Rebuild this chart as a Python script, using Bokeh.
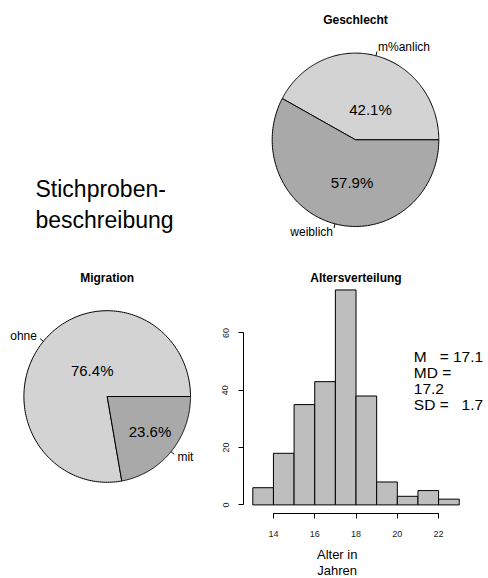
import numpy as np
from bokeh.plotting import figure
from bokeh.models import Range1d, Label, FixedTicker
from bokeh.embed import file_html
from bokeh.resources import INLINE

# ---------------- data ----------------
sex_labels = ["m%anlich", "weiblich"]
sex_share = [42.1, 57.9]
sex_pct_text = ["42.1%", "57.9%"]
sex_title = "Geschlecht"

mig_labels = ["ohne", "mit"]
mig_share = [77.8, 22.2]
mig_pct_text = ["76.4%", "23.6%"]
mig_title = "Migration"

age_edges = [13, 14, 15, 16, 17, 18, 19, 20, 21, 22, 23]
age_counts = [6, 18, 35, 43, 75, 38, 8, 3, 5, 2]
age_ticks = [14, 16, 18, 20, 22]
count_ticks = [0, 20, 40, 60]
age_title = "Altersverteilung"
age_xlabel = ["Alter in", "Jahren"]
stats_lines = ["M   = 17.1", "MD =", "17.2", "SD =   1.7"]

intro_lines = ["Stichproben-", "beschreibung"]

# ---------------- style / layout ----------------
FONT = "Liberation Sans"
LIGHT = "#D3D3D3"
DARK = "#A9A9A9"
BAR = "#BEBEBE"
W, H = 488, 578

# histogram placement on the canvas (pixels per data unit and anchors)
X_PER, X_ANCHOR = 20.645, 252.3     # age 13 sits at x = 252.3 px
Y_PER, Y_ANCHOR = 2.866, 504.4      # count 0 sits at y = 504.4 px (from top)

p = figure(width=W, height=H,
           x_range=Range1d(13 - X_ANCHOR / X_PER, 13 + (W - X_ANCHOR) / X_PER),
           y_range=Range1d(-(H - Y_ANCHOR) / Y_PER, Y_ANCHOR / Y_PER),
           output_backend="svg", toolbar_location=None, min_border=0)
p.extra_x_ranges = {"page": Range1d(0, W)}
p.extra_y_ranges = {"page": Range1d(H, 0)}
p.outline_line_color = None
p.xgrid.visible = False
p.ygrid.visible = False
p.background_fill_color = "white"
p.border_fill_color = "white"

PG = dict(x_range_name="page", y_range_name="page")


def lab(x, y, text, size, align="center", baseline="middle", bold=False):
    p.add_layout(Label(x=x, y=y, text=text, text_font=FONT,
                       text_font_size=f"{size}px",
                       text_font_style="bold" if bold else "normal",
                       text_align=align, text_baseline=baseline,
                       text_color="black", **PG))


def pie(cx, cy, rx, ry, shares, colors, labels):
    total = float(sum(shares))
    start = 0.0
    xs, ys = [], []
    seg = dict(x0=[], y0=[], x1=[], y1=[])
    for s, lbl in zip(shares, labels):
        a0 = start
        a1 = start + 360.0 * s / total
        th = np.radians(np.linspace(a0, a1, 200))
        xs.append([cx] + list(cx + rx * np.cos(th)))
        ys.append([cy] + list(cy - ry * np.sin(th)))
        mid = np.radians((a0 + a1) / 2)
        c, sn = np.cos(mid), np.sin(mid)
        seg["x0"].append(cx + rx * c)
        seg["y0"].append(cy - ry * sn)
        seg["x1"].append(cx + 1.05 * rx * c)
        seg["y1"].append(cy - 1.05 * ry * sn)
        lab(cx + 1.1 * rx * c, cy - 1.1 * ry * sn, lbl, 12,
            align="left" if c >= 0 else "right")
        start = a1
    p.patches(xs, ys, fill_color=colors, line_color="black", line_width=1, **PG)
    p.segment(**seg, line_color="black", line_width=1, **PG)


# ---------------- heading text ----------------
lab(35, 188, intro_lines[0], 23, align="left")
lab(35, 219, intro_lines[1], 23, align="left")

# ---------------- Geschlecht pie ----------------
pie(355, 139.3, 83.3, 86.7, sex_share, [LIGHT, DARK], sex_labels)
lab(355, 19, sex_title, 12, bold=True)
lab(370, 108.5, sex_pct_text[0], 15)
lab(351.5, 181.5, sex_pct_text[1], 15)

# ---------------- Migration pie ----------------
pie(106.7, 396, 83.3, 85.8, mig_share, [LIGHT, DARK], mig_labels)
lab(106.7, 277, mig_title, 12, bold=True)
lab(91.7, 369.5, mig_pct_text[0], 15)
lab(149.5, 431, mig_pct_text[1], 15)

# ---------------- histogram ----------------
p.quad(left=age_edges[:-1], right=age_edges[1:], bottom=0, top=age_counts,
       fill_color=BAR, line_color="black", line_width=1)

for ax in (p.xaxis[0], p.yaxis[0]):
    ax.major_tick_in = 0
    ax.major_tick_out = 5
    ax.minor_tick_line_color = None
    ax.axis_line_color = "black"
    ax.major_tick_line_color = "black"
    ax.major_label_text_font = FONT
    ax.major_label_text_font_size = "9px"
    ax.major_label_text_color = "#1a1a1a"

p.xaxis.ticker = FixedTicker(ticks=age_ticks)
p.xaxis.bounds = (age_ticks[0], age_ticks[-1])
p.xaxis.fixed_location = -3.0
p.xaxis.major_label_standoff = 13
p.yaxis.ticker = FixedTicker(ticks=count_ticks)
p.yaxis.bounds = (count_ticks[0], count_ticks[-1])
p.yaxis.fixed_location = 12.55
p.yaxis.major_label_orientation = "vertical"
p.yaxis.major_label_standoff = 10

lab(355.5, 277, age_title, 12, bold=True)
lab(336.7, 554, age_xlabel[0], 13)
lab(336.7, 570, age_xlabel[1], 13)
for i, t in enumerate(stats_lines):
    # non-breaking spaces keep the padding that R printed
    lab(413.3, 356 + 16 * i, t.replace(" ", "\u00a0"), 15.5, align="left")

open("out.html", "w").write(file_html(p, INLINE))
